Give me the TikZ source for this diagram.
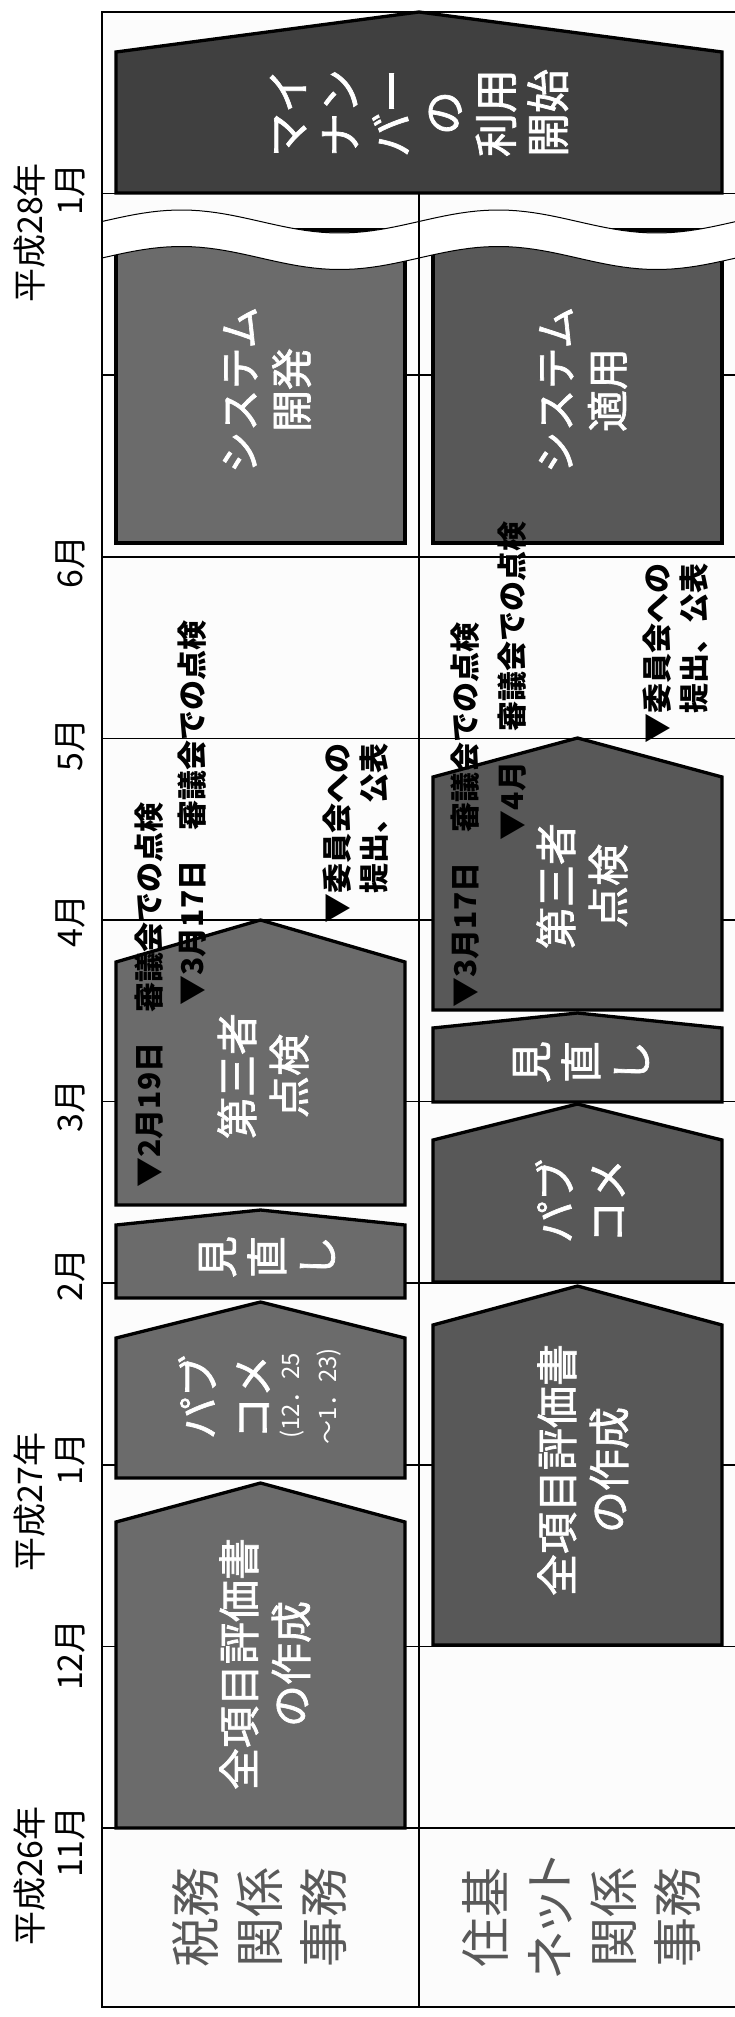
\documentclass[tikz,border=0pt]{standalone}
\usepackage{fontspec}
\setmainfont{Noto Sans CJK JP}
\newfontfamily\jpprop[RawFeature=+palt]{Noto Sans CJK JP}
\newfontfamily\jpheavy[FakeBold=1.6]{Noto Sans CJK JP}
\definecolor{gridback}{RGB}{252,252,252}
\definecolor{taxgray}{RGB}{107,107,107}
\definecolor{netgray}{RGB}{88,88,88}
\definecolor{startgray}{RGB}{64,64,64}
\definecolor{headgray}{RGB}{89,89,89}

\newcommand{\housebox}[6]{%
  \filldraw[taskbox,fill=#1] (#2,#6) -- (#2,#5) -- ({(#2+#3)/2},#4) -- (#3,#5) -- (#3,#6) -- cycle;}

\begin{document}
\begin{tikzpicture}[x=1pt,y=-1pt,
  gridline/.style={line width=1.5pt},
  taskbox/.style={draw=black,line width=3.3pt},
  boxtext/.style={rotate=90,text=white,align=center,inner sep=0pt,font=\jpheavy\fontsize{42}{52}\selectfont},
  note/.style={rotate=90,align=left,inner sep=0pt,font=\bfseries\fontsize{30}{37}\selectfont},
  month/.style={rotate=90,align=right,inner sep=0pt,font=\fontsize{34}{40}\selectfont},
  head/.style={rotate=90,text=headgray,align=center,inner sep=0pt,font=\fontsize{50}{64}\selectfont}]
\useasboundingbox (0,0) rectangle (734,2017);
\fill[white] (0,0) rectangle (734,2017);
\fill[gridback] (102,12) rectangle (745,2007);

\foreach \k in {0,...,9}
  \draw[gridline] (102,{1828-181.6*\k}) -- (745,{1828-181.6*\k});
\draw[gridline] (419,194) -- (419,2007);
\draw[line width=2pt] (745,12) -- (102,12) -- (102,2007) -- (745,2007);

\housebox{taxgray}{116}{405}{1483}{1522}{1828}
\housebox{taxgray}{116}{405}{1302}{1338}{1478}
\housebox{taxgray}{116}{405}{1210}{1225}{1298}
\housebox{taxgray}{116}{405}{920}{962}{1205}
\filldraw[taskbox,fill=taxgray] (116,543) rectangle (405,230);

\housebox{netgray}{433}{722}{1286}{1325}{1645}
\housebox{netgray}{433}{722}{1104}{1140}{1282}
\housebox{netgray}{433}{722}{1013}{1028}{1102}
\housebox{netgray}{433}{722}{738}{777}{1010}
\filldraw[taskbox,fill=netgray] (433,543) rectangle (722,230);

\housebox{startgray}{116}{722}{12}{52}{193}

\fill[white] plot[domain=102:745,samples=80] (\x,{221.5-11.5*sin(1.1356*(\x-102))})
  -- plot[domain=745:102,samples=80] (\x,{258-11.5*sin(1.1356*(\x-102))}) -- cycle;
\draw[line width=1pt] plot[domain=102:745,samples=80] (\x,{221.5-11.5*sin(1.1356*(\x-102))});
\draw[line width=1pt] plot[domain=102:745,samples=80] (\x,{258-11.5*sin(1.1356*(\x-102))});
\draw[gridline] (419,194) -- (419,543);
\draw[line width=2pt] (102,194) -- (102,543);

\node[boxtext,font=\jpheavy\fontsize{44}{52}\selectfont] (mynumber) at (419,113) {マイ\\ナン\\バー\\の\\利用\\開始};
\node[boxtext] (taxsystem) at (267,390) {システム\\開発};
\node[boxtext] (netsystem) at (583,390) {システム\\適用};
\node[boxtext] (taxcheck) at (263,1076) {第三者\\点検};
\node[boxtext] (netcheck) at (582,886) {第三者\\点検};
\node[boxtext,font=\jpheavy\fontsize{42}{50}\selectfont] (taxreview) at (267,1257) {見\\直\\し};
\node[boxtext,font=\jpheavy\fontsize{42}{50}\selectfont] (netreview) at (581,1062) {見\\直\\し};
\node[boxtext,font=\jpheavy\fontsize{42}{54}\selectfont] (taxcomment) at (224,1397) {パブ\\コメ};
\node[boxtext,font=\fontsize{24}{37}\selectfont] (taxdate) at (311,1396) {(12．25\\～1．23)};
\node[boxtext] (netcomment) at (580,1201) {パブ\\コメ};
\node[boxtext] (taxsheet) at (265,1664) {全項目評価書\\の作成};
\node[boxtext] (netsheet) at (583,1470) {全項目評価書\\の作成};

\node[note] (taxnote1) at (149,995) {▼2月19日　審議会での点検};
\node[note] (taxnote2) at (192,813) {▼3月17日　審議会での点検};
\node[note] (taxnote3) at (356,833) {▼委員会への\\　提出、公表};
\node[note] (netnote1) at (465,815) {▼3月17日　審議会での点検};
\node[note] (netnote2) at (512,681) {▼4月　審議会での点検};
\node[note] (netnote3) at (676,653) {▼委員会への\\　提出、公表};

\node[month] (m11) at (50,1876) {平成26年\\11月};
\node[month] (m12) at (70,1655) {12月};
\node[month] (m01) at (50,1502) {平成27年\\1月};
\node[month] (m02) at (70,1275) {2月};
\node[month] (m03) at (70,1106) {3月};
\node[month] (m04) at (70,921) {4月};
\node[month] (m05) at (70,745) {5月};
\node[month] (m06) at (70,562) {6月};
\node[month] (m13) at (50,233) {平成28年\\1月};

\node[head] (taxhead) at (260,1917) {税務\\関係\\事務};
\node[head,font=\jpprop\fontsize{50}{64}\selectfont] (nethead) at (582,1917) {住基\\ネット\\関係\\事務};
\end{tikzpicture}
\end{document}
